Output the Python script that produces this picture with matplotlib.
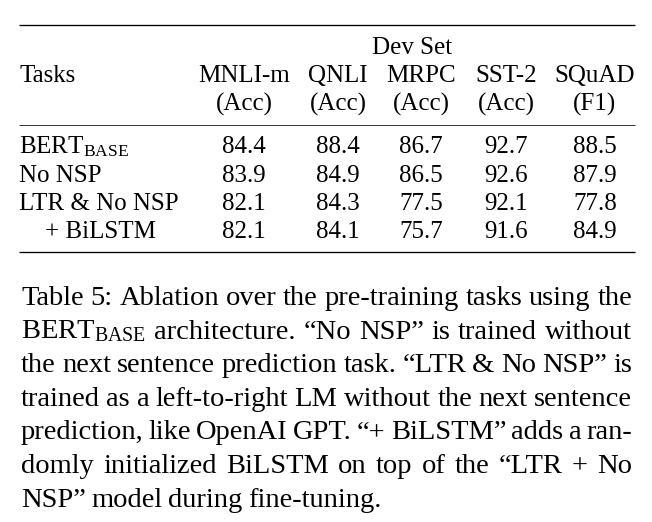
import matplotlib
matplotlib.use("Agg")
import matplotlib.pyplot as plt

plt.rcParams['font.family'] = ['Liberation Serif', 'DejaVu Serif']
plt.rcParams['mathtext.fontset'] = 'custom'
plt.rcParams['mathtext.rm'] = 'Liberation Serif'
plt.rcParams['mathtext.it'] = 'Liberation Serif:italic'
plt.rcParams['mathtext.bf'] = 'Liberation Serif:bold'

# table contents
tasks = ['BERT$_{\\mathrm{BASE}}$', 'No NSP', 'LTR & No NSP', '+ BiLSTM']
columns = ['MNLI-m', 'QNLI', 'MRPC', 'SST-2', 'SQuAD']
metrics = ['(Acc)', '(Acc)', '(Acc)', '(Acc)', '(F1)']
mnli = [84.4, 83.9, 82.1, 82.1]
qnli = [88.4, 84.9, 84.3, 84.1]
mrpc = [86.7, 86.5, 77.5, 75.7]
sst2 = [92.7, 92.6, 92.1, 91.6]
squad = [88.5, 87.9, 77.8, 84.9]

caption_lines = [
    'Table 5: Ablation over the pre-training tasks using the',
    'BERT$_{\\mathrm{BASE}}$ architecture.  \u201cNo NSP\u201d is trained without',
    'the next sentence prediction task. \u201cLTR & No NSP\u201d is',
    'trained as a left-to-right LM without the next sentence',
    'prediction, like OpenAI GPT. \u201c+ BiLSTM\u201d adds a ran-',
    'domly initialized BiLSTM on top of the \u201cLTR + No',
    'NSP\u201d model during fine-tuning.',
]

W, H = 652, 522
fig = plt.figure(figsize=(W / 100, H / 100), dpi=100)
ax = fig.add_axes([0, 0, 1, 1])
ax.set_xlim(0, W)
ax.set_ylim(H, 0)
ax.axis('off')

fs_tab = 18
fs_cap = 20.5
col_x = [244, 338, 421, 506, 595]
left, right = 19, 635

# rules
ax.plot([left, right], [25, 25], color='black', lw=0.95, solid_capstyle='butt')
ax.plot([left, right], [124.5, 124.5], color='black', lw=0.55, solid_capstyle='butt')
ax.plot([left, right], [251.5, 251.5], color='black', lw=0.95, solid_capstyle='butt')

# header
ax.text(412, 54.5, 'Dev Set', ha='center', va='baseline', fontsize=fs_tab)
ax.text(left, 82.5, 'Tasks', ha='left', va='baseline', fontsize=fs_tab)
for x, c, m in zip(col_x, columns, metrics):
    ax.text(x, 82.5, c, ha='center', va='baseline', fontsize=fs_tab)
    ax.text(x, 110.5, m, ha='center', va='baseline', fontsize=fs_tab)

# body
row_y = [153, 181.5, 210, 238.5]
values = [mnli, qnli, mrpc, sst2, squad]
for i, (t, y) in enumerate(zip(tasks, row_y)):
    tx = 45 if t.startswith('+') else left
    ax.text(tx, y, t, ha='left', va='baseline', fontsize=fs_tab)
    for x, col in zip(col_x, values):
        ax.text(x, y, f'{col[i]:.1f}', ha='center', va='baseline', fontsize=fs_tab)

# justified caption
renderer = fig.canvas.get_renderer()
cap_left, cap_right = 21, 632
for k, line in enumerate(caption_lines):
    y = 305 + 33.6 * k
    words = line.split()
    arts = [ax.text(0, y, w, ha='left', va='baseline', fontsize=fs_cap) for w in words]
    widths = [a.get_window_extent(renderer).width for a in arts]
    if k < len(caption_lines) - 1:
        gap = (cap_right - cap_left - sum(widths)) / (len(words) - 1)
    else:
        gap = 5.5
    x = cap_left
    for a, w in zip(arts, widths):
        a.set_x(x)
        x += w + gap

fig.savefig('out.png', dpi=100)
